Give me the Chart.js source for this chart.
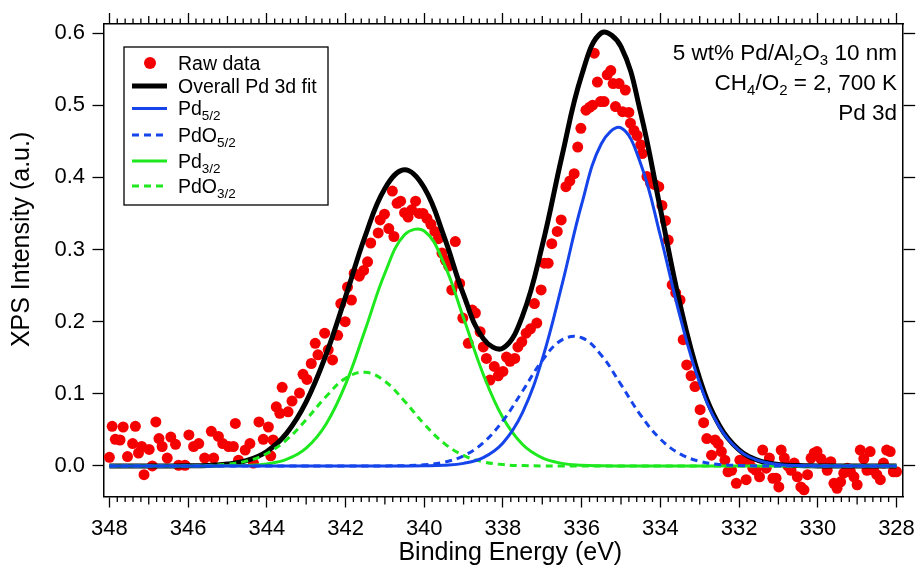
<!DOCTYPE html>
<html>
<head>
<meta charset="utf-8">
<script src="https://cdn.jsdelivr.net/npm/chart.js@4.4.0/dist/chart.umd.min.js"></script>
<style>
  body { margin: 0; background: #fff; }
</style>
</head>
<body>
<canvas id="xps" width="923" height="570"></canvas>
<script>
const FONT = '"Liberation Sans", Arial, Helvetica, sans-serif';

// axis ticks
const xTickValues = [348, 346, 344, 342, 340, 338, 336, 334, 332, 330, 328];
const yTickValues = [0, 0.1, 0.2, 0.3, 0.4, 0.5, 0.6];

// fit curves, every 0.5 eV
const fitEnergy = [348, 347.5, 347, 346.5, 346, 345.5, 345, 344.5, 344, 343.5,
                   343, 342.5, 342, 341.5, 341, 340.5, 340, 339.5, 339, 338.5,
                   338, 337.5, 337, 336.5, 336, 335.5, 335, 334.5, 334, 333.5,
                   333, 332.5, 332, 331.5, 331, 330.5, 330, 329.5, 329, 328.5, 328];
const overallFit = [0, 0, 0, 0, 0.0002, 0.0007, 0.0026, 0.0077, 0.0201, 0.0452,
                    0.0889, 0.1535, 0.2345, 0.3187, 0.3846, 0.4105, 0.3855, 0.3186, 0.2373, 0.1765,
                    0.1633, 0.2085, 0.3056, 0.4294, 0.5414, 0.6002, 0.5812, 0.4892, 0.3564, 0.2240,
                    0.1210, 0.0561, 0.0223, 0.0075, 0.0022, 0.0005, 0.0001, 0, 0, 0, 0];
const pd52 = [0, 0, 0, 0, 0, 0, 0, 0, 0, 0,
              0, 0, 0, 0, 0, 0, 0.0002, 0.0010, 0.0036, 0.0116,
              0.0319, 0.0744, 0.1481, 0.2510, 0.3627, 0.4465, 0.4685, 0.4189, 0.3191, 0.2072,
              0.1146, 0.0540, 0.0217, 0.0074, 0.0022, 0.0005, 0.0001, 0, 0, 0, 0];
const pdo52 = [0, 0, 0, 0, 0, 0, 0, 0, 0, 0,
               0, 0, 0, 0, 0.0001, 0.0004, 0.0016, 0.0052, 0.0141, 0.0322,
               0.0628, 0.1039, 0.1462, 0.1748, 0.1777, 0.1535, 0.1127, 0.0703, 0.0373, 0.0168,
               0.0064, 0.0021, 0.0006, 0.0001, 0, 0, 0, 0, 0, 0, 0];
const pd32 = [0, 0, 0, 0, 0, 0, 0.0002, 0.0007, 0.0028, 0.0090,
              0.0247, 0.0575, 0.1131, 0.1888, 0.2671, 0.3203, 0.3257, 0.2807, 0.2050, 0.1270,
              0.0667, 0.0297, 0.0112, 0.0036, 0.0010, 0.0002, 0, 0, 0, 0,
              0, 0, 0, 0, 0, 0, 0, 0, 0, 0, 0];
const pdo32 = [0, 0, 0, 0, 0.0002, 0.0007, 0.0024, 0.0070, 0.0173, 0.0362,
               0.0642, 0.0960, 0.1214, 0.1299, 0.1174, 0.0898, 0.0580, 0.0317, 0.0146, 0.0057,
               0.0019, 0.0005, 0.0001, 0, 0, 0, 0, 0, 0, 0,
               0, 0, 0, 0, 0, 0, 0, 0, 0, 0, 0];

// raw data points [binding energy, intensity]
const rawData = [
  [348.00, 0.012], [347.93, 0.055], [347.85, 0.037], [347.73, 0.036], [347.65, 0.054],
  [347.54, 0.013], [347.41, 0.031], [347.34, 0.055], [347.26, 0.018], [347.18, 0.027],
  [347.12, -0.012], [346.99, 0.023], [346.91, 0.000], [346.82, 0.061], [346.74, 0.038],
  [346.66, 0.027], [346.53, 0.011], [346.44, 0.040], [346.32, 0.030], [346.24, 0.001],
  [346.08, 0.001], [345.98, 0.043], [345.86, 0.027], [345.73, 0.031], [345.58, 0.011],
  [345.41, 0.048], [345.35, 0.011], [345.23, 0.041], [345.12, 0.031], [344.97, 0.027],
  [344.85, 0.027], [344.80, 0.059], [344.72, 0.008], [344.55, 0.022], [344.43, 0.031],
  [344.34, 0.004], [344.20, 0.061], [344.09, 0.037], [343.96, 0.054], [343.90, 0.014],
  [343.84, 0.036], [343.76, 0.082], [343.67, 0.073], [343.61, 0.109], [343.46, 0.075],
  [343.36, 0.090], [343.17, 0.101], [343.08, 0.127], [342.98, 0.120], [342.87, 0.142],
  [342.77, 0.170], [342.70, 0.154], [342.53, 0.184], [342.44, 0.161], [342.33, 0.147],
  [342.20, 0.181], [342.12, 0.225], [342.01, 0.200], [341.95, 0.248], [341.85, 0.230],
  [341.78, 0.267], [341.65, 0.263], [341.54, 0.271], [341.44, 0.283], [341.36, 0.309],
  [341.17, 0.323], [341.12, 0.341], [341.01, 0.349], [340.90, 0.329], [340.81, 0.381],
  [340.77, 0.318], [340.69, 0.364], [340.60, 0.367], [340.50, 0.351], [340.41, 0.345],
  [340.32, 0.355], [340.22, 0.367], [340.13, 0.350], [340.03, 0.350], [339.93, 0.343],
  [339.83, 0.335], [339.73, 0.325], [339.64, 0.315], [339.55, 0.295], [339.46, 0.285],
  [339.38, 0.277], [339.30, 0.244], [339.21, 0.311], [339.10, 0.253], [339.02, 0.205],
  [338.88, 0.170], [338.78, 0.216], [338.70, 0.212], [338.58, 0.186], [338.50, 0.165],
  [338.42, 0.149], [338.33, 0.119], [338.22, 0.138], [338.12, 0.125], [338.00, 0.131],
  [337.91, 0.151], [337.82, 0.145], [337.70, 0.149], [337.62, 0.165], [337.52, 0.172],
  [337.41, 0.184], [337.30, 0.190], [337.20, 0.225], [337.14, 0.198], [337.03, 0.244],
  [336.95, 0.281], [336.85, 0.281], [336.76, 0.308], [336.62, 0.325], [336.52, 0.341],
  [336.40, 0.387], [336.30, 0.395], [336.19, 0.405], [336.10, 0.442], [336.02, 0.468],
  [335.89, 0.493], [335.80, 0.497], [335.72, 0.500], [335.68, 0.572], [335.60, 0.532],
  [335.52, 0.505], [335.43, 0.505], [335.35, 0.542], [335.26, 0.548], [335.20, 0.530],
  [335.14, 0.498], [335.05, 0.530], [334.96, 0.491], [334.89, 0.521], [334.80, 0.490],
  [334.76, 0.475], [334.67, 0.465], [334.59, 0.458], [334.50, 0.445], [334.46, 0.433],
  [334.34, 0.401], [334.25, 0.392], [334.14, 0.390], [334.04, 0.387], [333.96, 0.361],
  [333.87, 0.340], [333.80, 0.313], [333.70, 0.251], [333.61, 0.240], [333.50, 0.230],
  [333.42, 0.175], [333.33, 0.140], [333.22, 0.125], [333.12, 0.110], [332.99, 0.078],
  [332.90, 0.060], [332.82, 0.038], [332.70, 0.015], [332.61, 0.036], [332.53, 0.031],
  [332.45, 0.020], [332.36, 0.008], [332.28, -0.008], [332.19, -0.006], [332.07, -0.024],
  [331.98, 0.008], [331.90, 0.006], [331.82, -0.019], [331.74, 0.006], [331.65, -0.003],
  [331.57, -0.006], [331.48, -0.015], [331.40, 0.022], [331.31, -0.003], [331.23, 0.011],
  [331.14, -0.017], [331.06, -0.017], [330.99, -0.029], [330.93, 0.022], [330.85, 0.011],
  [330.76, 0.000], [330.68, -0.006], [330.60, 0.004], [330.52, -0.015], [330.43, -0.029],
  [330.35, -0.033], [330.26, -0.012], [330.17, 0.011], [330.09, 0.018], [330.02, 0.020],
  [329.92, 0.010], [329.84, 0.004], [329.76, -0.006], [329.67, 0.006], [329.59, -0.024],
  [329.51, -0.031], [329.42, -0.022], [329.34, -0.010], [329.25, -0.003], [329.17, -0.008],
  [329.08, -0.015], [329.00, -0.026], [328.92, 0.022], [328.83, 0.010], [328.75, -0.006],
  [328.67, 0.020], [328.58, -0.006], [328.50, -0.012], [328.41, -0.019], [328.33, 0.004],
  [328.25, 0.022], [328.16, 0.020], [328.08, -0.008], [328.00, -0.008]
];

const seriesLabels = ['Raw data', 'Overall Pd 3d fit', 'Pd_{5/2}', 'PdO_{5/2}', 'Pd_{3/2}', 'PdO_{3/2}'];
const noteLines = ['5 wt% Pd/Al_{2}O_{3} 10 nm', 'CH_{4}/O_{2} = 2, 700 K', 'Pd 3d'];

const RED = '#f50000', BLUE = '#1444ea', GREEN = '#1ee81e';

function curve(ys) { return fitEnergy.map((e, i) => ({x: e, y: ys[i]})); }

// split "Pd_{5/2}" into normal / subscript pieces
function pieces(s) {
  const out = [];
  const re = /_\{([^}]*)\}/g;
  let last = 0, m;
  while ((m = re.exec(s))) {
    if (m.index > last) out.push([s.slice(last, m.index), false]);
    out.push([m[1], true]);
    last = re.lastIndex;
  }
  if (last < s.length) out.push([s.slice(last), false]);
  return out;
}

function richText(ctx, s, x, y, size, subSize, align) {
  const parts = pieces(s);
  const fonts = parts.map(p => (p[1] ? subSize : size) + 'px ' + FONT);
  const widths = parts.map((p, i) => { ctx.font = fonts[i]; return ctx.measureText(p[0]).width; });
  let cx = align === 'right' ? x - widths.reduce((a, b) => a + b, 0) : x;
  parts.forEach((p, i) => {
    ctx.font = fonts[i];
    ctx.fillText(p[0], cx, p[1] ? y + size * 0.26 : y);
    cx += widths[i];
  });
}

const minorTicks = {
  id: 'minorTicks',
  afterDraw(chart) {
    const ctx = chart.ctx, sx = chart.scales.x, a = chart.chartArea;
    ctx.save();
    ctx.strokeStyle = '#000';
    ctx.lineWidth = 1.3;
    ctx.beginPath();
    for (let k = 0; k <= 100; k++) {
      const v = 348 - k * 0.2;
      const r = Math.round(v);
      const whole = Math.abs(v - r) < 1e-6;
      if (whole && r % 2 === 0) continue;
      const len = whole ? 8 : 5.5;
      const px = sx.getPixelForValue(v);
      ctx.moveTo(px, a.bottom); ctx.lineTo(px, a.bottom + len);
      ctx.moveTo(px, a.top); ctx.lineTo(px, a.top - len);
    }
    ctx.stroke();
    ctx.restore();
  }
};

const legendBox = {
  id: 'legendBox',
  afterDraw(chart) {
    const ctx = chart.ctx;
    const rows = [63, 86, 108.5, 135, 161, 186];
    ctx.save();
    ctx.fillStyle = '#fff';
    ctx.fillRect(124, 47, 204, 158);
    ctx.strokeStyle = '#000';
    ctx.lineWidth = 1.3;
    ctx.strokeRect(124, 47, 204, 158);
    chart.data.datasets.forEach((ds, i) => {
      const y = rows[i];
      if (ds.showLine === false) {
        ctx.fillStyle = ds.pointBackgroundColor;
        ctx.beginPath();
        ctx.arc(150, y, 6, 0, Math.PI * 2);
        ctx.fill();
      } else {
        ctx.strokeStyle = ds.borderColor;
        ctx.lineWidth = ds.borderWidth;
        ctx.setLineDash(ds.borderDash || []);
        ctx.beginPath();
        ctx.moveTo(132, y); ctx.lineTo(167, y);
        ctx.stroke();
        ctx.setLineDash([]);
      }
      ctx.fillStyle = '#000';
      ctx.textBaseline = 'alphabetic';
      richText(ctx, seriesLabels[i], 178, y + 6.5, 19.5, 13.5, 'left');
    });
    noteLines.forEach((s, i) => richText(ctx, s, 897, 59.5 + i * 30, 22.5, 15, 'right'));
    ctx.restore();
  }
};

const lineBase = {pointRadius: 0, tension: 0.4, fill: false};

new Chart(document.getElementById('xps'), {
  type: 'line',
  data: {
    datasets: [
      {label: seriesLabels[0], data: rawData.map(p => ({x: p[0], y: p[1]})), showLine: false,
       pointRadius: 5.5, pointBorderWidth: 0, pointBackgroundColor: RED, borderColor: RED, order: 6},
      Object.assign({label: seriesLabels[1], data: curve(overallFit), borderColor: '#000', borderWidth: 5, order: 5}, lineBase),
      Object.assign({label: seriesLabels[2], data: curve(pd52), borderColor: BLUE, borderWidth: 3, order: 1}, lineBase),
      Object.assign({label: seriesLabels[3], data: curve(pdo52), borderColor: BLUE, borderWidth: 3, borderDash: [7, 5], order: 2}, lineBase),
      Object.assign({label: seriesLabels[4], data: curve(pd32), borderColor: GREEN, borderWidth: 3, order: 4}, lineBase),
      Object.assign({label: seriesLabels[5], data: curve(pdo32), borderColor: GREEN, borderWidth: 3, borderDash: [7, 5], order: 3}, lineBase)
    ]
  },
  options: {
    responsive: false,
    animation: false,
    events: [],
    layout: {padding: 0},
    plugins: {legend: {display: false}, tooltip: {enabled: false}},
    scales: {
      x: {
        type: 'linear', position: 'bottom', reverse: true, min: 327.83, max: 348.15,
        afterBuildTicks: s => { s.ticks = xTickValues.map(v => ({value: v})); },
        afterFit: s => { s.height = 73.5; },
        ticks: {color: '#000', font: {family: FONT, size: 22}, padding: 8, autoSkip: false, maxRotation: 0,
                callback: v => String(v)},
        grid: {drawOnChartArea: false, tickLength: 11, tickWidth: 1.3, tickColor: '#000'},
        border: {display: true, color: '#000', width: 1.5},
        title: {display: true, text: '  Binding Energy (eV)', color: '#000',
                font: {family: FONT, size: 25}, padding: {top: 0, bottom: 2}}
      },
      xTop: {
        type: 'linear', position: 'top', reverse: true, min: 327.83, max: 348.15,
        afterBuildTicks: s => { s.ticks = xTickValues.map(v => ({value: v})); },
        afterFit: s => { s.height = 24; },
        ticks: {display: false},
        grid: {drawOnChartArea: false, tickLength: 11, tickWidth: 1.3, tickColor: '#000'},
        border: {display: true, color: '#000', width: 1.5}
      },
      y: {
        type: 'linear', position: 'left', min: -0.0423, max: 0.6125,
        afterBuildTicks: s => { s.ticks = yTickValues.map(v => ({value: v})); },
        afterFit: s => { s.width = 103.5; },
        ticks: {color: '#000', font: {family: FONT, size: 22}, padding: 7.5, callback: v => v.toFixed(1)},
        grid: {drawOnChartArea: false, tickLength: 11, tickWidth: 1.3, tickColor: '#000'},
        border: {display: true, color: '#000', width: 1.5},
        title: {display: true, text: '      XPS Intensity (a.u.)', color: '#000',
                font: {family: FONT, size: 25}, padding: {top: 7, bottom: 0}}
      },
      yRight: {
        type: 'linear', position: 'right', min: -0.0423, max: 0.6125,
        afterBuildTicks: s => { s.ticks = yTickValues.map(v => ({value: v})); },
        afterFit: s => { s.width = 13; },
        ticks: {display: false},
        grid: {drawOnChartArea: false, tickLength: 12, tickWidth: 1.3, tickColor: '#000'},
        border: {display: true, color: '#000', width: 1.5}
      }
    }
  },
  plugins: [minorTicks, legendBox]
});
</script>
</body>
</html>
